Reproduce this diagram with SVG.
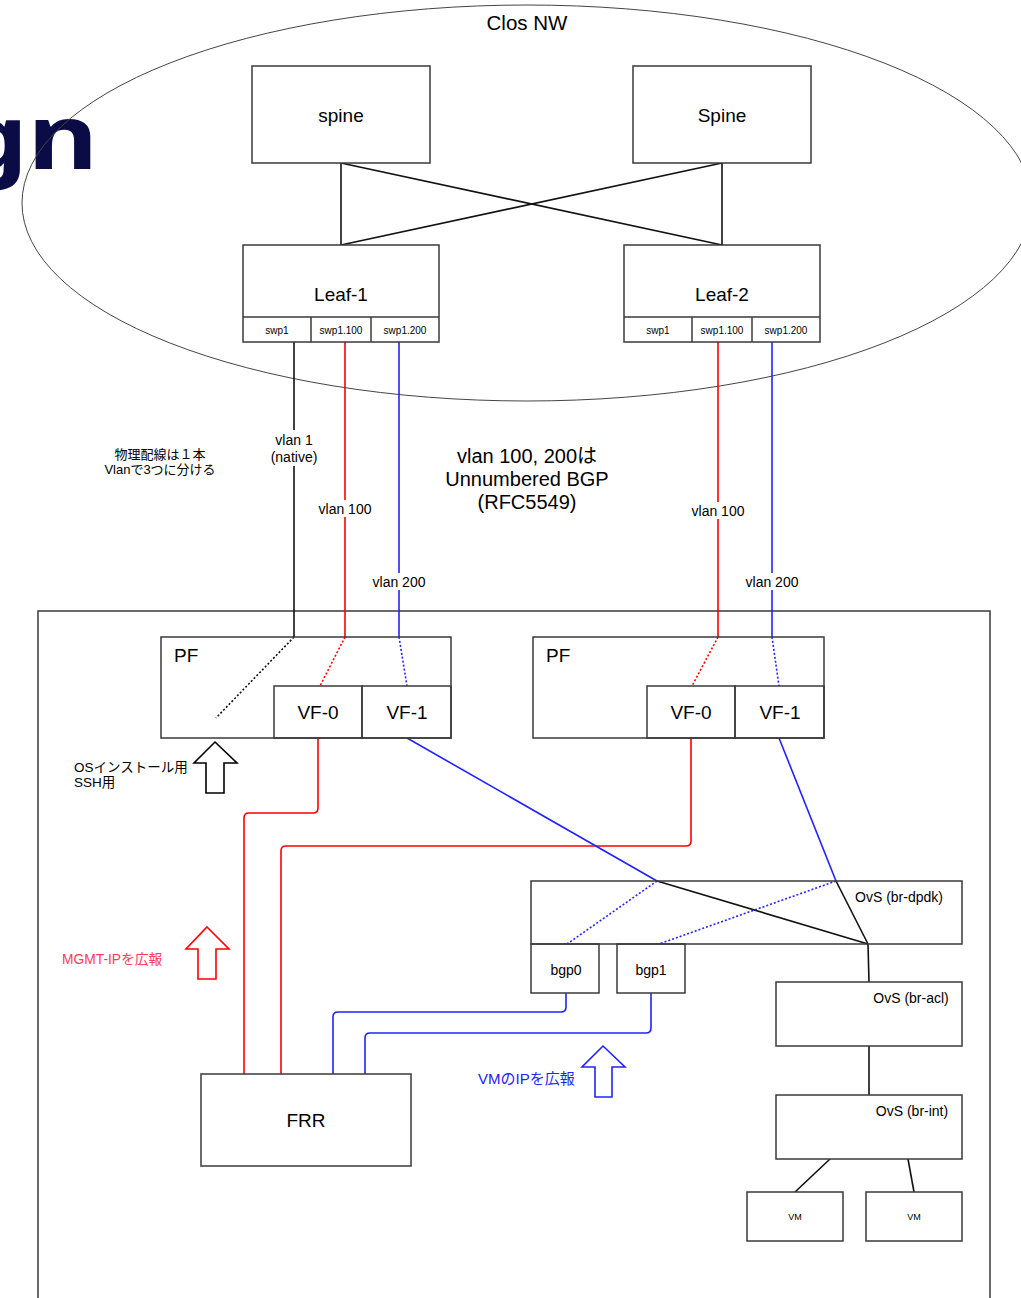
<svg xmlns="http://www.w3.org/2000/svg" width="1021" height="1298" viewBox="0 0 1021 1298">
<style>
text{font-family:"Liberation Sans","Noto Sans CJK JP",Arial,sans-serif;fill:#000}
.box{fill:#fff;stroke:#3a3a3a;stroke-width:1.5}
.nb{fill:none;stroke:#3a3a3a;stroke-width:1.5}
.k{stroke:#111;stroke-width:1.6;fill:none}
.r{stroke:#f00;stroke-width:1.6;fill:none}
.b{stroke:#22f;stroke-width:1.6;fill:none}
.dot{stroke-dasharray:2 2}
.lbl{font-size:14px;text-anchor:middle}
.c{text-anchor:middle}
</style>
<rect width="1021" height="1298" fill="#fff"/>
<text transform="translate(98 169) scale(1.2 1)" style="font-family:'Noto Sans','Liberation Sans',sans-serif;font-weight:bold;font-size:90px;fill:#0b0b45" text-anchor="end">gn</text>
<g id="clos">
<ellipse cx="527" cy="203" rx="505" ry="198" fill="none" stroke="#444" stroke-width="1"/>
<text x="527" y="30" class="c" font-size="20.5">Clos NW</text>
</g>
<g id="host">
<rect x="38" y="611" width="952" height="700" class="nb"/>
</g>
<g id="connectors">
<line x1="341" y1="163" x2="341" y2="245" class="k"/>
<line x1="341" y1="163" x2="722" y2="245" class="k"/>
<line x1="722" y1="163" x2="341" y2="245" class="k"/>
<line x1="722" y1="163" x2="722" y2="245" class="k"/>
<line x1="294" y1="342" x2="294" y2="637" class="k"/>
<line x1="345" y1="342" x2="345" y2="637" class="r"/>
<line x1="399" y1="342" x2="399" y2="637" class="b"/>
<line x1="718" y1="342" x2="718" y2="637" class="r"/>
<line x1="772" y1="342" x2="772" y2="637" class="b"/>
<line x1="294" y1="637" x2="216" y2="718" class="k dot"/>
<line x1="345" y1="637" x2="320" y2="686" class="r dot"/>
<line x1="399" y1="637" x2="407" y2="686" class="b dot"/>
<line x1="718" y1="637" x2="692" y2="686" class="r dot"/>
<line x1="772" y1="637" x2="779" y2="686" class="b dot"/>
<path d="M318 738 V808 Q318 813 313 813 H249 Q244 813 244 818 V1074" class="r"/>
<path d="M691 738 V841 Q691 846 686 846 H286 Q281 846 281 851 V1074" class="r"/>
<line x1="407" y1="738" x2="657" y2="881" class="b"/>
<line x1="779" y1="738" x2="836" y2="881" class="b"/>
<line x1="657" y1="881" x2="868" y2="944" class="k"/>
<line x1="836" y1="881" x2="868" y2="944" class="k"/>
<line x1="657" y1="881" x2="567" y2="944" class="b dot" stroke-width="1.2"/>
<line x1="836" y1="881" x2="659" y2="944" class="b dot" stroke-width="1.2"/>
<path d="M566 993 V1007 Q566 1012 561 1012 H338 Q333 1012 333 1017 V1074" class="b"/>
<path d="M651 993 V1028 Q651 1033 646 1033 H370 Q365 1033 365 1038 V1074" class="b"/>
<line x1="868" y1="944" x2="869" y2="982" class="k"/>
<line x1="869" y1="1046" x2="869" y2="1095" class="k"/>
<line x1="830" y1="1159" x2="795" y2="1192" class="k"/>
<line x1="908" y1="1159" x2="914" y2="1192" class="k"/>
<rect x="271" y="430" width="46" height="36" fill="#fff"/>
<text x="294" y="445" class="lbl">vlan 1</text>
<text x="294" y="462" class="lbl">(native)</text>
<rect x="315" y="500" width="60" height="17" fill="#fff"/>
<text x="345" y="514" class="lbl">vlan 100</text>
<rect x="369" y="573" width="60" height="17" fill="#fff"/>
<text x="399" y="587" class="lbl">vlan 200</text>
<rect x="688" y="502" width="60" height="17" fill="#fff"/>
<text x="718" y="516" class="lbl">vlan 100</text>
<rect x="742" y="573" width="60" height="17" fill="#fff"/>
<text x="772" y="587" class="lbl">vlan 200</text>
</g>
<g id="spine1"><rect x="252" y="66" width="178" height="97" class="box"/><text x="341" y="122" class="c" font-size="19">spine</text></g>
<g id="spine2"><rect x="633" y="66" width="178" height="97" class="box"/><text x="722" y="122" class="c" font-size="19">Spine</text></g>
<g id="leaf1">
<rect x="243" y="245" width="196" height="97" class="box"/>
<text x="341" y="301" class="c" font-size="19">Leaf-1</text>
<line x1="243" y1="317" x2="439" y2="317" class="nb"/>
<line x1="311" y1="317" x2="311" y2="342" class="nb"/>
<line x1="371" y1="317" x2="371" y2="342" class="nb"/>
<text x="277" y="334" class="c" font-size="10">swp1</text>
<text x="341" y="334" class="c" font-size="10">swp1.100</text>
<text x="405" y="334" class="c" font-size="10">swp1.200</text>
</g>
<g id="leaf2">
<rect x="624" y="245" width="196" height="97" class="box"/>
<text x="722" y="301" class="c" font-size="19">Leaf-2</text>
<line x1="624" y1="317" x2="820" y2="317" class="nb"/>
<line x1="692" y1="317" x2="692" y2="342" class="nb"/>
<line x1="752" y1="317" x2="752" y2="342" class="nb"/>
<text x="658" y="334" class="c" font-size="10">swp1</text>
<text x="722" y="334" class="c" font-size="10">swp1.100</text>
<text x="786" y="334" class="c" font-size="10">swp1.200</text>
</g>
<g id="note1"><text x="160" y="459" class="c" font-size="13">物理配線は１本</text><text x="160" y="474" class="c" font-size="13">Vlanで3つに分ける</text></g>
<g id="note2"><text x="527" y="463" class="c" font-size="20">vlan 100, 200は</text><text x="527" y="486" class="c" font-size="20">Unnumbered BGP</text><text x="527" y="509" class="c" font-size="20">(RFC5549)</text></g>
<g id="pf1">
<path d="M161 637 H451 V738 H161 Z" class="nb"/>
<text x="174" y="662" font-size="19">PF</text>
</g>
<g id="vf0a"><rect x="274" y="686" width="88" height="52" class="nb"/><text x="318" y="719" class="c" font-size="19">VF-0</text></g>
<g id="vf1a"><rect x="362" y="686" width="89" height="52" class="nb"/><text x="407" y="719" class="c" font-size="19">VF-1</text></g>
<g id="pf2">
<path d="M533 637 H824 V738 H533 Z" class="nb"/>
<text x="546" y="662" font-size="19">PF</text>
</g>
<g id="vf0b"><rect x="647" y="686" width="88" height="52" class="nb"/><text x="691" y="719" class="c" font-size="19">VF-0</text></g>
<g id="vf1b"><rect x="735" y="686" width="89" height="52" class="nb"/><text x="780" y="719" class="c" font-size="19">VF-1</text></g>
<g id="arrow-os">
<path d="M215 742 L237 763 L224 763 L224 793 L206 793 L206 763 L194 763 Z" fill="#fff" stroke="#000" stroke-width="1.6"/>
<text x="74" y="772" font-size="13.5">OSインストール用</text>
<text x="74" y="787" font-size="13.5">SSH用</text>
</g>
<g id="ovs-dpdk"><path d="M531 881 H962 V944 H531 Z" class="nb"/><text x="899" y="902" class="c" font-size="14">OvS (br-dpdk)</text></g>
<g id="bgp0"><rect x="531" y="944" width="68" height="49" class="nb"/><text x="566" y="975" class="c" font-size="14">bgp0</text></g>
<g id="bgp1"><rect x="617" y="944" width="68" height="49" class="nb"/><text x="651" y="975" class="c" font-size="14">bgp1</text></g>
<g id="ovs-acl"><rect x="776" y="982" width="186" height="64" class="box"/><text x="911" y="1003" class="c" font-size="14">OvS (br-acl)</text></g>
<g id="ovs-int"><rect x="776" y="1095" width="186" height="64" class="box"/><text x="912" y="1116" class="c" font-size="14">OvS (br-int)</text></g>
<g id="vm1"><rect x="747" y="1192" width="96" height="49" class="box"/><text x="795" y="1220" class="c" font-size="9">VM</text></g>
<g id="vm2"><rect x="866" y="1192" width="96" height="49" class="box"/><text x="914" y="1220" class="c" font-size="9">VM</text></g>
<g id="frr"><rect x="201" y="1074" width="210" height="92" class="box"/><text x="306" y="1127" class="c" font-size="19">FRR</text></g>
<g id="arrow-mgmt">
<path d="M207 927 L229 949 L216 949 L216 979 L198 979 L198 949 L186 949 Z" fill="#fff" stroke="#f00" stroke-width="1.6"/>
<text x="62" y="964" font-size="13.8" style="fill:#ff3b5c">MGMT-IPを広報</text>
</g>
<g id="arrow-vm">
<path d="M603 1046 L625 1067 L612 1067 L612 1097 L595 1097 L595 1067 L582 1067 Z" fill="#fff" stroke="#22f" stroke-width="1.6"/>
<text x="478" y="1084" font-size="15" style="fill:#22f">VMのIPを広報</text>
</g>
</svg>
